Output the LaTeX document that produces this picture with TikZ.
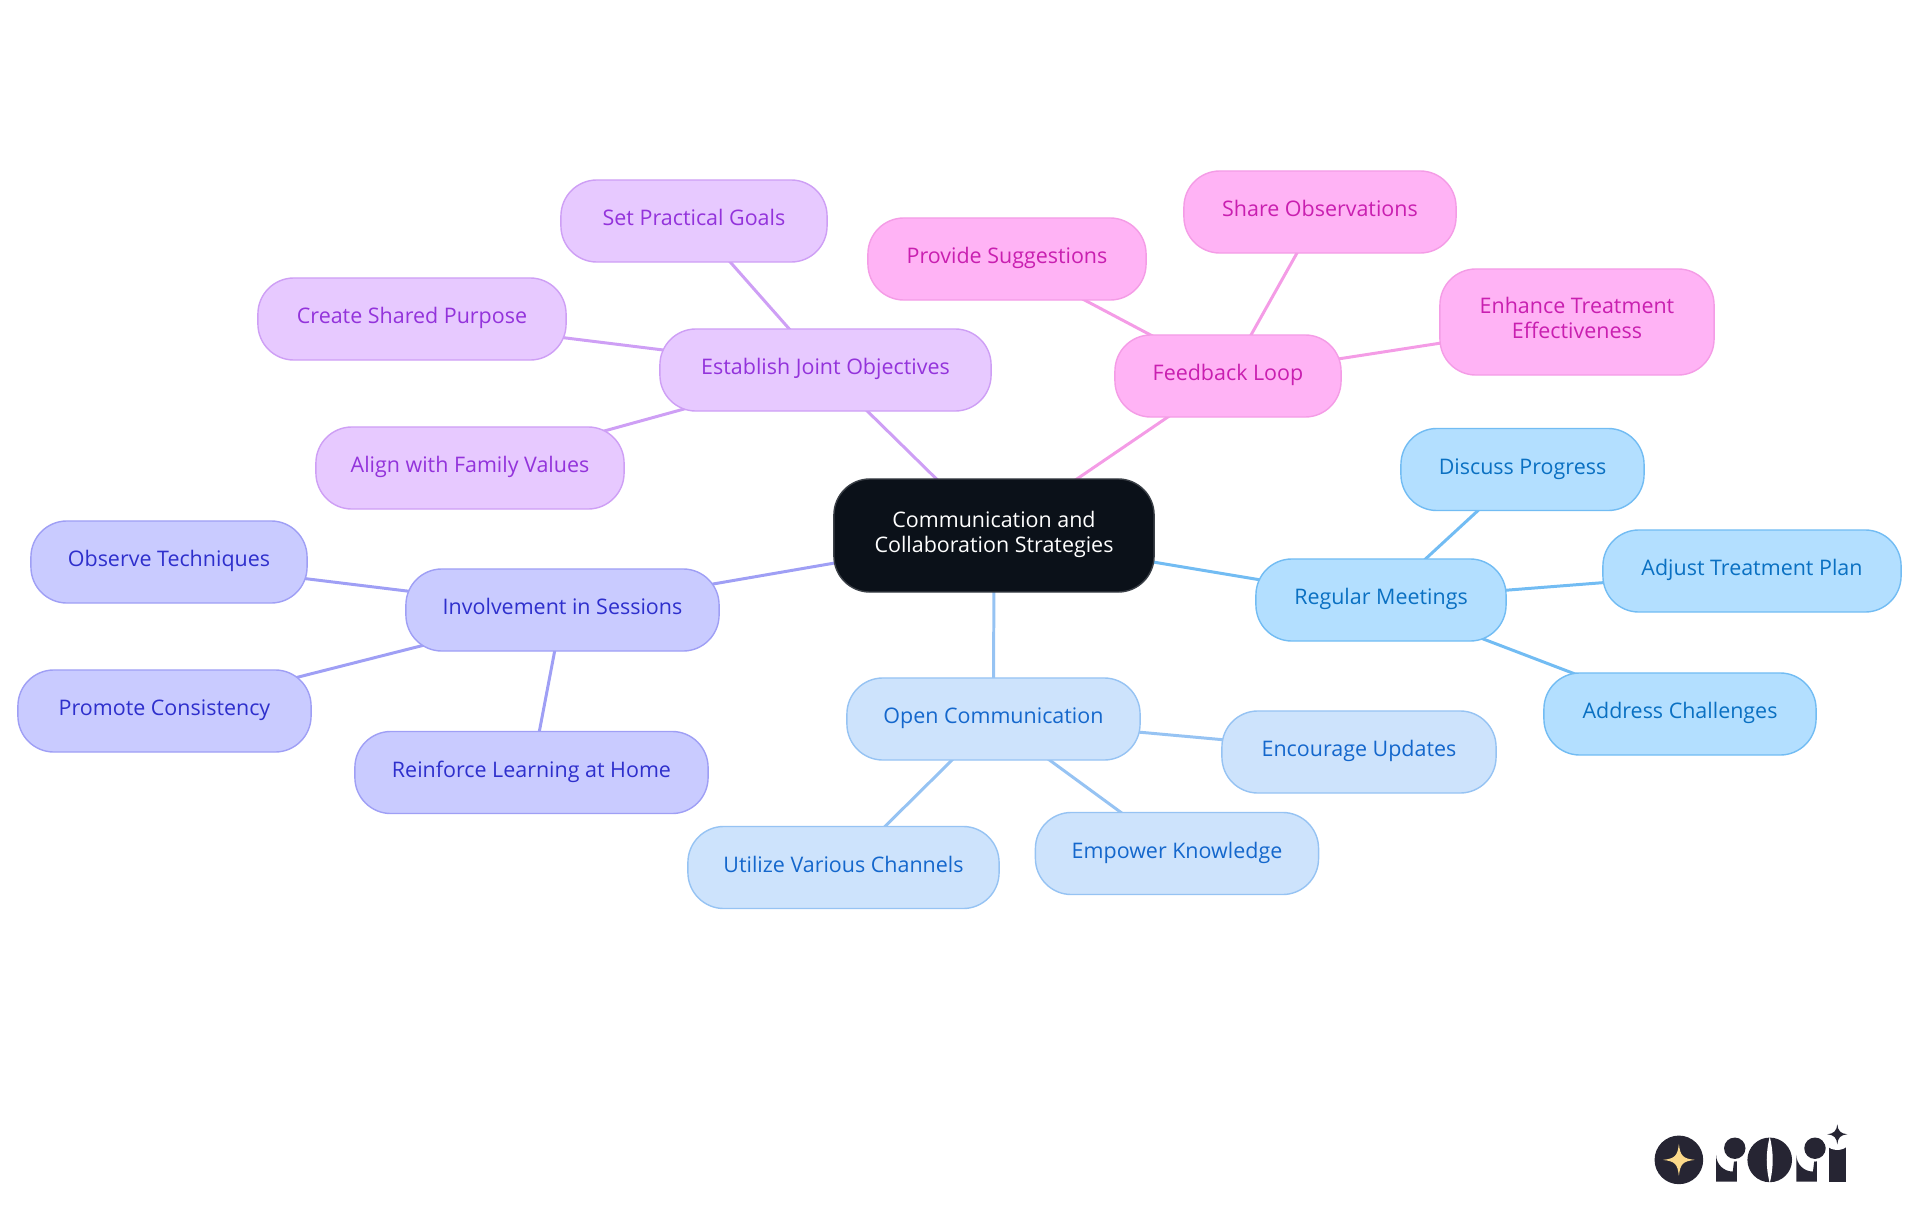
\documentclass[tikz,border=0pt]{standalone}
\usepackage{fontspec}
\setmainfont{Open Sans}
\usetikzlibrary{backgrounds}

\definecolor{coreFill}{HTML}{0B1119}
\definecolor{coreEdge}{HTML}{3A3F46}
\definecolor{pinkFill}{HTML}{FFB3F5}
\definecolor{pinkEdge}{HTML}{F49CE6}
\definecolor{pinkText}{HTML}{C91FB0}
\definecolor{violFill}{HTML}{E7C9FF}
\definecolor{violEdge}{HTML}{CE9FF5}
\definecolor{violText}{HTML}{9333DB}
\definecolor{indgFill}{HTML}{C9CBFF}
\definecolor{indgEdge}{HTML}{9F9FF5}
\definecolor{indgText}{HTML}{2E2FCC}
\definecolor{skyFill}{HTML}{B3DFFF}
\definecolor{skyEdge}{HTML}{72BCF3}
\definecolor{skyText}{HTML}{0A70C2}
\definecolor{paleFill}{HTML}{CDE3FC}
\definecolor{paleEdge}{HTML}{96C3F3}
\definecolor{paleText}{HTML}{1467CC}
\definecolor{logoInk}{HTML}{262533}
\definecolor{logoStar}{HTML}{FBD98A}

\tikzset{
  pill/.style={rounded corners=0.36cm, inner sep=0pt, align=center, line width=0.4pt,
    minimum height=0.82cm, font=\fontsize{6.1}{7.1}\selectfont,
    execute at begin node=\strut, execute at end node=\strut},
  corebox/.style={pill, fill=coreFill, draw=coreEdge, text=white},
  pinkbox/.style={pill, fill=pinkFill, draw=pinkEdge, text=pinkText},
  violbox/.style={pill, fill=violFill, draw=violEdge, text=violText},
  indgbox/.style={pill, fill=indgFill, draw=indgEdge, text=indgText},
  skybox/.style={pill, fill=skyFill, draw=skyEdge, text=skyText},
  palebox/.style={pill, fill=paleFill, draw=paleEdge, text=paleText},
  branch/.style={line width=0.85pt}
}

\begin{document}
\begin{tikzpicture}[x=0.01cm, y=-0.01cm]
\useasboundingbox (0,0) rectangle (1920,1215);

%centre
\node [corebox, minimum width=3.2cm, minimum height=1.13cm] (core) at (994,535.5) {Communication and\\Collaboration Strategies};

%open communication
\node [palebox, minimum width=2.93cm] (open) at (993.5,719) {Open Communication};
\node [palebox, minimum width=2.74cm] (updates) at (1359,752) {Encourage Updates};
\node [palebox, minimum width=2.83cm] (empower) at (1177,853.5) {Empower Knowledge};
\node [palebox, minimum width=3.11cm] (channels) at (843.5,867.5) {Utilize Various Channels};

%regular meetings
\node [skybox, minimum width=2.5cm] (meetings) at (1381,600) {Regular Meetings};
\node [skybox, minimum width=2.43cm] (progress) at (1522.5,469.5) {Discuss Progress};
\node [skybox, minimum width=2.98cm] (adjust) at (1752,571) {Adjust Treatment Plan};
\node [skybox, minimum width=2.72cm] (address) at (1680,714) {Address Challenges};

%feedback loop
\node [pinkbox, minimum width=2.26cm] (feedback) at (1228,376) {Feedback Loop};
\node [pinkbox, minimum width=2.78cm] (suggest) at (1007,259) {Provide Suggestions};
\node [pinkbox, minimum width=2.72cm] (share) at (1320,212) {Share Observations};
\node [pinkbox, minimum width=2.74cm, minimum height=1.06cm] (enhance) at (1577,322) {Enhance Treatment\\Effectiveness};

%joint objectives
\node [violbox, minimum width=3.31cm] (joint) at (825.5,370) {Establish Joint Objectives};
\node [violbox, minimum width=2.66cm] (goals) at (694,221) {Set Practical Goals};
\node [violbox, minimum width=3.08cm] (purpose) at (412,319) {Create Shared Purpose};
\node [violbox, minimum width=3.08cm] (family) at (470,468) {Align with Family Values};

%sessions
\node [indgbox, minimum width=3.13cm] (sessions) at (562.5,610) {Involvement in Sessions};
\node [indgbox, minimum width=2.76cm] (observe) at (169,562) {Observe Techniques};
\node [indgbox, minimum width=2.93cm] (promote) at (164.5,711) {Promote Consistency};
\node [indgbox, minimum width=3.53cm] (reinforce) at (531.5,772.5) {Reinforce Learning at Home};

%branches
\begin{scope}[on background layer]
\foreach \a/\b in {core/open, open/updates, open/empower, open/channels}
   {\draw [branch, paleEdge] (\a.center) -- (\b.center);
   }
\foreach \a/\b in {core/meetings, meetings/progress, meetings/adjust, meetings/address}
   {\draw [branch, skyEdge] (\a.center) -- (\b.center);
   }
\foreach \a/\b in {core/feedback, feedback/suggest, feedback/share, feedback/enhance}
   {\draw [branch, pinkEdge] (\a.center) -- (\b.center);
   }
\foreach \a/\b in {core/joint, joint/goals, joint/purpose, joint/family}
   {\draw [branch, violEdge] (\a.center) -- (\b.center);
   }
\foreach \a/\b in {core/sessions, sessions/observe, sessions/promote, sessions/reinforce}
   {\draw [branch, indgEdge] (\a.center) -- (\b.center);
   }
\end{scope}

%logo
\begin{scope}[shift={(1600,1090)}, x=0.00333cm, y=-0.00333cm]
\fill [logoInk] (237,210) circle (0.243cm);
\fill [logoStar] (189,210) .. controls (225,206) and (233,198) .. (237,162) .. controls (241,198) and (249,206) .. (285,210) .. controls (249,214) and (241,222) .. (237,258) .. controls (233,222) and (225,214) .. (189,210) -- cycle;
\foreach \i in {0,241}
   {\fill [logoInk] (349+\i,275) -- (349+\i,195) arc (180:90:50) -- (411+\i,145) -- (411+\i,275) -- cycle;
    \fill [white] (405+\i,175) circle (0.133cm);
    \fill [logoInk] (405+\i,175) circle (0.107cm);
   }
\fill [logoInk] (510,210) circle (0.223cm);
\fill [white] (510,140) .. controls (498,190) and (498,230) .. (510,280) .. controls (522,230) and (522,190) .. (510,140) -- cycle;
\fill [logoInk] (688,165) rectangle (740,275);
\fill [white] (713,133) circle (0.157cm);
\fill [logoInk] (683,133) .. controls (703,131) and (711,123) .. (713,103) .. controls (715,123) and (723,131) .. (743,133) .. controls (723,135) and (715,143) .. (713,163) .. controls (711,143) and (703,135) .. (683,133) -- cycle;
\end{scope}

\end{tikzpicture}
\end{document}
